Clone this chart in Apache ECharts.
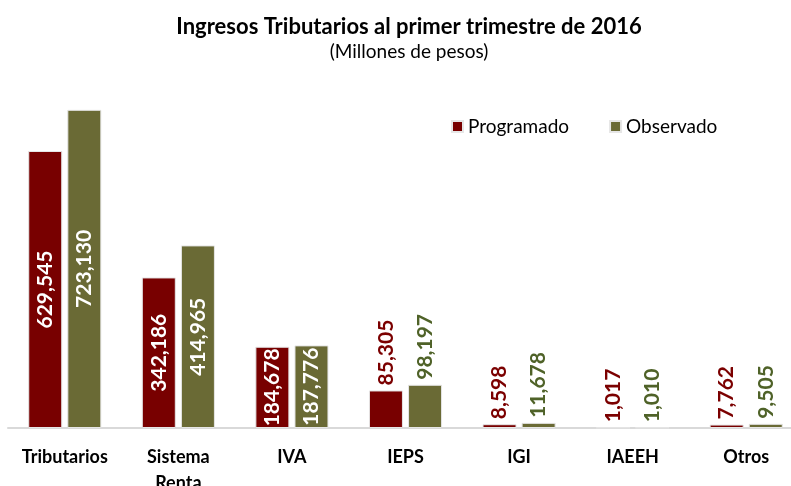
<!DOCTYPE html>
<html lang="es">
<head>
<meta charset="UTF-8">
<title>Ingresos Tributarios</title>
<script src="https://cdn.jsdelivr.net/npm/echarts@6/dist/echarts.min.js"></script>
<style>
  html, body { margin: 0; padding: 0; background: #fff; }
  #main { width: 791px; height: 486px; }
</style>
</head>
<body>
<div id="main"></div>
<script>
// datos (millones de pesos)
var categorias = ['Tributarios', 'Sistema\nRenta', 'IVA', 'IEPS', 'IGI', 'IAEEH', 'Otros'];
var programado = [629545, 342186, 184678, 85305, 8598, 1017, 7762];
var observado = [723130, 414965, 187776, 98197, 11678, 1010, 9505];

var rojo = '#780000';
var verde = '#6a6a35';
var fuente = 'Lato, "Open Sans", sans-serif';

// etiqueta dentro de la barra si es grande, arriba si es chica
function etiquetas(valores, colorTexto) {
    return valores.map(function (v) {
        var dentro = v > 150000;
        return {
            value: v,
            label: {
                show: true,
                rotate: 90,
                position: dentro ? 'inside' : 'top',
                align: dentro ? 'center' : 'left',
                verticalAlign: 'middle',
                distance: 5,
                color: dentro ? '#fff' : colorTexto,
                fontSize: 21,
                fontWeight: 'bold',
                fontFamily: fuente,
                formatter: function (p) { return p.value.toLocaleString('en-US'); }
            }
        };
    });
}

var myChart = echarts.init(document.getElementById('main'));
var option = {
    animation: false,
    title: {
        text: 'Ingresos Tributarios al primer trimestre de 2016',
        subtext: '(Millones de pesos)',
        left: 404,
        textAlign: 'center',
        top: 11,
        itemGap: 4,
        textStyle: { fontSize: 22, fontWeight: 'bold', color: '#000', fontFamily: fuente },
        subtextStyle: { fontSize: 19, color: '#000', fontFamily: fuente }
    },
    legend: {
        left: 446,
        top: 112,
        itemWidth: 11,
        itemHeight: 11,
        itemGap: 40,
        icon: 'rect',
        textStyle: { fontSize: 19, color: '#000', fontFamily: fuente },
        data: ['Programado', 'Observado']
    },
    grid: { left: 8, right: -12, top: 76, bottom: 58, outerBoundsMode: 'none' },
    xAxis: {
        type: 'category',
        data: categorias,
        axisLine: { lineStyle: { color: '#d9d9d9', width: 2 } },
        axisTick: { show: false },
        axisLabel: {
            interval: 0,
            color: '#000', fontSize: 18, fontWeight: 'bold', fontFamily: fuente,
            margin: 16, lineHeight: 26
        }
    },
    yAxis: {
        type: 'value',
        min: 0,
        max: 800000,
        show: false,
        splitLine: { show: false }
    },
    series: [
        {
            name: 'Programado',
            type: 'bar',
            barWidth: 34,
            barGap: '15%',
            itemStyle: { color: rojo, borderColor: '#e6e6e6', borderWidth: 1 },
            data: etiquetas(programado, '#7b0000')
        },
        {
            name: 'Observado',
            type: 'bar',
            barWidth: 34,
            itemStyle: { color: verde, borderColor: '#e6e6e6', borderWidth: 1 },
            data: etiquetas(observado, '#4f6228')
        }
    ]
};
myChart.setOption(option);
</script>
</body>
</html>
